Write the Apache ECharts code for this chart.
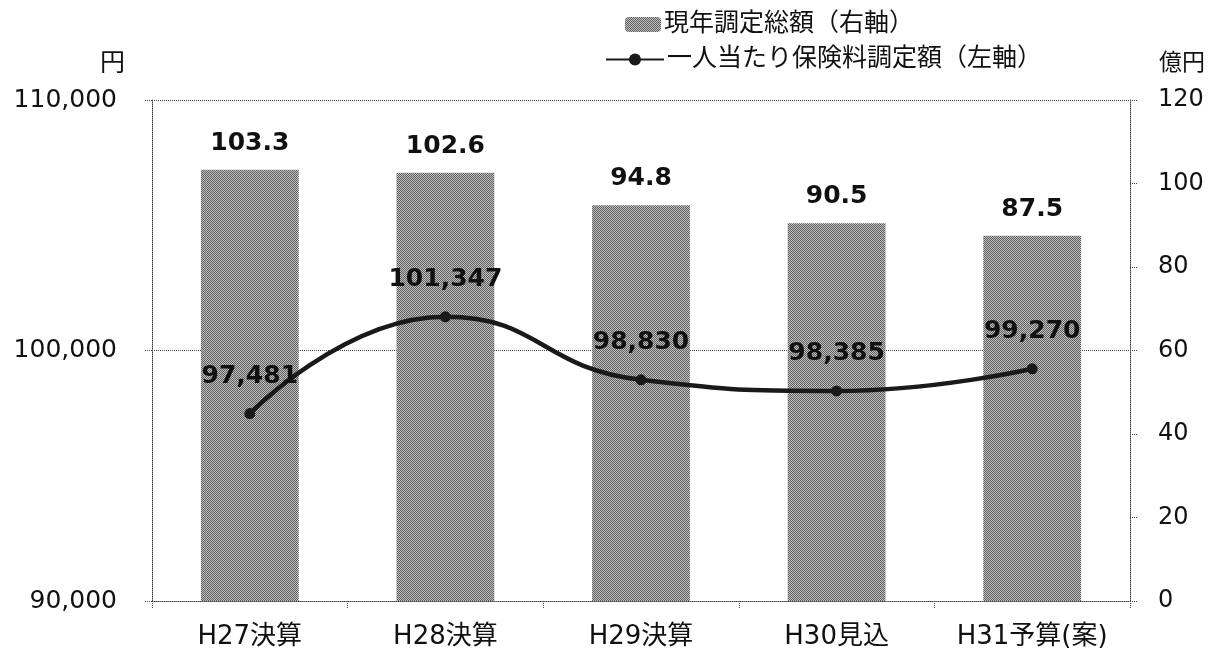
<!DOCTYPE html>
<html>
<head>
<meta charset="utf-8">
<script src="https://cdn.jsdelivr.net/npm/echarts@6/dist/echarts.min.js"></script>
<style>
  html, body { margin: 0; padding: 0; background: #fff; }
  #chart { width: 1215px; height: 657px; }
</style>
</head>
<body>
<div id="chart"></div>
<script>
// Fiscal years
const categories = ['H27決算', 'H28決算', 'H29決算', 'H30見込', 'H31予算(案)'];
// Total assessed amount for the current year (億円, right axis)
const totalAmount = [103.3, 102.6, 94.8, 90.5, 87.5];
// Assessed premium per person (円, left axis)
const perPerson = [97481, 101347, 98830, 98385, 99270];

const barName = '現年調定総額（右軸）';
const lineName = '一人当たり保険料調定額（左軸）';

// Halftone-like checker fill for the bars
function makePattern() {
  const c = document.createElement('canvas');
  c.width = 2; c.height = 2;
  const g = c.getContext('2d');
  g.fillStyle = '#c2c2c2'; g.fillRect(0, 0, 2, 2);
  g.fillStyle = '#5e5e5e'; g.fillRect(0, 0, 1, 1); g.fillRect(1, 1, 1, 1);
  return c;
}
const barFill = { image: makePattern(), repeat: 'repeat' };

const font = '"DejaVu Sans", "Noto Sans CJK JP", sans-serif';
const dotted = { type: 'dotted', color: '#444', width: 1 };

const chart = echarts.init(document.getElementById('chart'));
chart.setOption({
  backgroundColor: '#fff',
  animation: false,
  textStyle: { fontFamily: font, color: '#111' },
  legend: [
    {
      data: [barName], left: 620, top: 7, itemWidth: 36, itemHeight: 15, itemGap: 4,
      textStyle: { fontSize: 25, fontFamily: font, color: '#111', padding: [0, 0, 0, -2] }
    },
    {
      data: [lineName], left: 600, top: 42, itemWidth: 58, itemHeight: 15, itemGap: 4,
      textStyle: { fontSize: 25, fontFamily: font, color: '#111', padding: [0, 0, 0, -2] }
    }
  ],
  grid: { left: 152, right: 85, top: 100, bottom: 56, containLabel: false },
  xAxis: {
    type: 'category',
    data: categories,
    boundaryGap: true,
    axisLine: { lineStyle: dotted },
    axisTick: { show: true, interval: 0, length: 8, lineStyle: dotted },
    axisLabel: { interval: 0, fontSize: 26, margin: 23, color: '#111', fontFamily: font }
  },
  yAxis: [
    {
      type: 'value', min: 90000, max: 110000, interval: 10000, position: 'left',
      axisLine: { show: true, lineStyle: dotted },
      axisTick: { show: true, length: 8, lineStyle: dotted },
      splitLine: { show: true, lineStyle: dotted },
      axisLabel: {
        fontSize: 25, margin: 35, color: '#111', fontFamily: font,
        formatter: v => v.toLocaleString('en-US')
      }
    },
    {
      type: 'value', min: 0, max: 120, interval: 20, position: 'right',
      axisLine: { show: true, lineStyle: dotted },
      axisTick: { show: true, length: 8, lineStyle: dotted },
      splitLine: { show: false },
      axisLabel: { fontSize: 24, margin: 28, color: '#111', fontFamily: font }
    }
  ],
  graphic: [
    { type: 'text', left: 100, top: 52, style: { text: '円', font: '25px ' + font, fill: '#111' } },
    { type: 'text', left: 1159, top: 53, style: { text: '億円', font: '23px ' + font, fill: '#111' } }
  ],
  series: [
    {
      name: barName,
      type: 'bar',
      yAxisIndex: 1,
      data: totalAmount,
      barWidth: '50%',
      itemStyle: { color: barFill },
      label: {
        show: true, position: 'top', distance: 14,
        fontSize: 25, fontWeight: 'bold', color: '#111', fontFamily: font,
        formatter: p => p.value.toFixed(1)
      },
      z: 2
    },
    {
      name: lineName,
      type: 'line',
      yAxisIndex: 0,
      data: perPerson,
      smooth: 0.5,
      symbol: 'circle',
      symbolSize: 11,
      lineStyle: { color: '#1a1a1a', width: 4.5 },
      itemStyle: { color: '#1a1a1a' },
      label: {
        show: true, position: 'top', distance: 19,
        fontSize: 25, fontWeight: 'bold', color: '#111', fontFamily: font,
        formatter: p => p.value.toLocaleString('en-US')
      },
      z: 3
    }
  ]
});
</script>
</body>
</html>
